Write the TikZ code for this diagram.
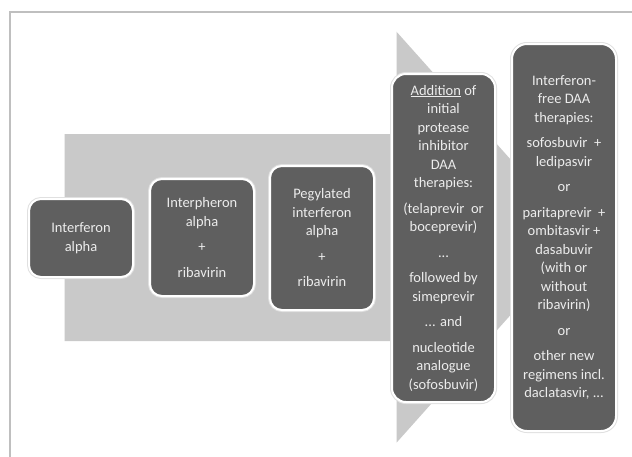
\documentclass[tikz,border=0pt]{standalone}
\usepackage{fontspec}
\setmainfont{Carlito}
\definecolor{boxfill}{HTML}{5F5F5F}
\definecolor{boxtext}{HTML}{ECECEC}
\definecolor{arrowgray}{HTML}{C9C9C9}
\definecolor{framegray}{HTML}{BFBFBF}
\begin{document}
\begin{tikzpicture}[x=1pt,y=-1pt,
  stagebox/.style={rectangle, rounded corners=#1, fill=boxfill, draw=white, line width=2pt,
    preaction={draw=black!12, line width=4pt},
    text=boxtext, align=center, inner sep=0pt,
    font=\fontsize{14.5}{18.5}\selectfont},
  stagebox/.default=12pt]
\useasboundingbox (0,0) rectangle (632,456);
\fill[white] (0,0) rectangle (632,456);
% frame
\draw[framegray, line width=2.5pt] (10,470) -- (10,12) -- (645,12);
% big arrow
\fill[arrowgray] (64.5,134) -- (396.5,134) -- (396.5,31.7) -- (580,237.2)
  -- (396.5,442.7) -- (396.5,341) -- (64.5,341) -- cycle;
% stages
\node[stagebox, minimum width=104pt, minimum height=78pt] (b1) at (81,238)
  {Interferon\\ alpha};
\node[stagebox, minimum width=104pt, minimum height=117pt] (b2) at (202,237.5)
  {Interpheron\\ alpha\\[7pt] +\\[7pt] ribavirin};
\node[stagebox, minimum width=104pt, minimum height=144pt] (b3) at (322,238)
  {Pegylated\\ interferon\\ alpha\\[7pt] +\\[7pt] ribavirin};
\node[stagebox=14pt, minimum width=103pt, minimum height=328pt] (b4) at (443.5,238)
  {\underline{Addition} of\\ initial\\ protease\\ inhibitor\\ DAA\\ therapies:\\[7pt]
   (telaprevir~~or\\ boceprevir)\\[7pt] ...\\[7pt] followed by\\ simeprevir\\[7pt]
   ... and\\[7pt] nucleotide\\ analogue\\ (sofosbuvir)};
\node[stagebox=15pt, minimum width=104pt, minimum height=387pt] (b5) at (564,237.5)
  {Interferon-\\ free DAA\\ therapies:\\[7pt] sofosbuvir~~+\\ ledipasvir\\[7pt] or\\[7pt]
   paritaprevir~~+\\ ombitasvir +\\ dasabuvir\\ (with or\\ without\\ ribavirin)\\[7pt]
   or\\[7pt] other new\\ regimens incl.\\ daclatasvir, ...};
\end{tikzpicture}
\end{document}
